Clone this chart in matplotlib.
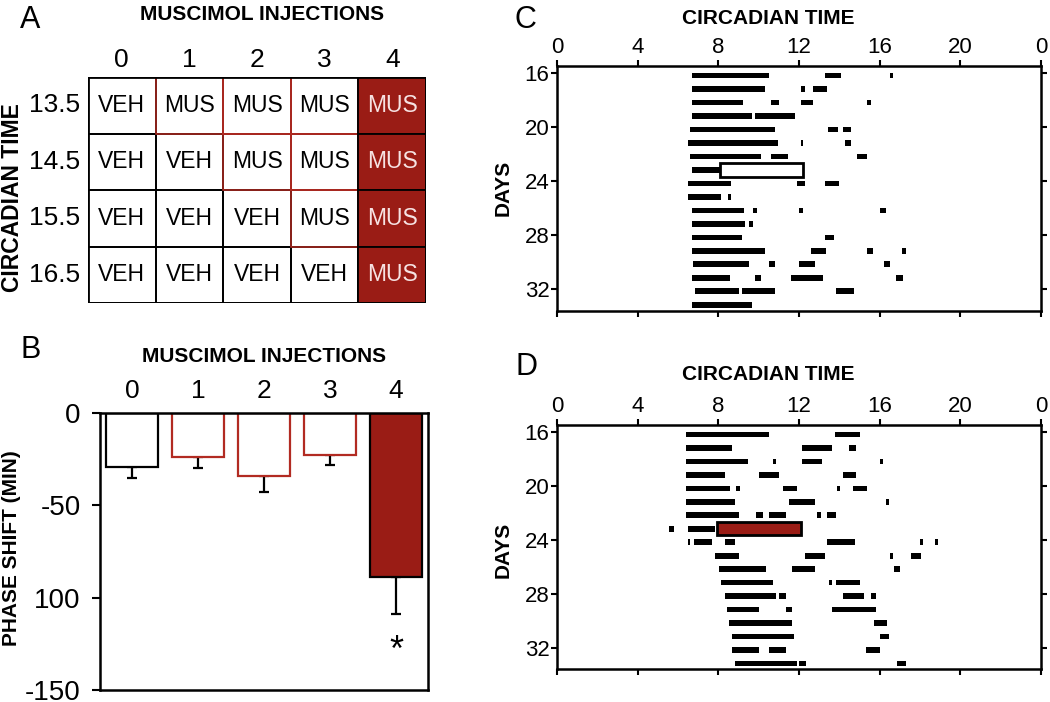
import matplotlib.pyplot as plt
from matplotlib.patches import Rectangle

plt.rcParams['font.family'] = ['Liberation Sans', 'DejaVu Sans']

DARK_RED = '#9a1c15'
EDGE_RED = '#b22b22'

# panel A: injection schedule
injections = [0, 1, 2, 3, 4]
ct_rows = ['13.5', '14.5', '15.5', '16.5']
schedule = [
    ['VEH', 'MUS', 'MUS', 'MUS', 'MUS'],
    ['VEH', 'VEH', 'MUS', 'MUS', 'MUS'],
    ['VEH', 'VEH', 'VEH', 'MUS', 'MUS'],
    ['VEH', 'VEH', 'VEH', 'VEH', 'MUS'],
]

# panel B: phase shifts (min)
shift_mean = [-29, -24, -34, -23, -89]
shift_sem = [6, 6, 9, 5, 20]

# panel C / D: activity bouts per day (start CT, end CT)
days = list(range(16, 34))
bouts_c = [
    [(6.7, 10.5), (13.3, 14.1), (16.5, 16.65)],
    [(6.7, 10.3), (12.1, 12.3), (12.7, 13.4)],
    [(6.7, 9.2), (10.6, 11.0), (12.1, 12.7), (15.35, 15.55)],
    [(6.7, 9.65), (9.8, 11.8)],
    [(6.6, 10.8), (13.45, 13.95), (14.2, 14.6)],
    [(6.5, 10.95), (12.1, 12.2), (14.3, 14.6)],
    [(6.6, 10.1), (10.6, 11.45), (14.9, 15.35)],
    [(6.7, 8.1)],
    [(6.5, 8.65), (11.9, 12.3), (13.3, 14.0)],
    [(6.5, 8.15), (8.5, 8.65)],
    [(6.7, 9.25), (9.7, 9.9), (12.0, 12.2), (16.0, 16.3)],
    [(6.7, 9.3), (9.5, 9.7)],
    [(6.7, 9.15), (13.3, 13.75)],
    [(6.7, 10.3), (12.6, 13.35), (15.35, 15.65), (17.1, 17.3)],
    [(6.75, 9.5), (10.5, 10.8), (12.0, 12.8), (16.2, 16.5)],
    [(6.7, 8.6), (9.8, 10.1), (11.6, 13.2), (16.8, 17.15)],
    [(6.85, 9.0), (9.15, 10.8), (13.85, 14.75)],
    [(6.7, 9.65)],
]
bouts_d = [
    [(6.4, 10.5), (13.8, 15.0)],
    [(6.4, 8.7), (12.15, 13.65), (14.5, 14.85)],
    [(6.4, 9.45), (10.7, 10.85), (12.15, 13.15), (16.0, 16.15)],
    [(6.4, 8.35), (10.0, 11.0), (14.2, 14.85)],
    [(6.4, 8.6), (8.9, 9.05), (11.2, 11.9), (13.9, 14.05), (14.7, 15.35)],
    [(6.4, 8.85), (11.5, 12.8), (16.3, 16.45)],
    [(6.4, 9.0), (9.85, 10.2), (10.5, 11.35), (12.9, 13.1), (13.4, 13.85)],
    [(5.55, 5.8), (6.5, 7.85)],
    [(6.5, 6.6), (6.8, 7.7), (8.35, 8.85), (13.4, 14.8), (18.0, 18.15), (18.75, 18.9)],
    [(7.85, 9.0), (12.3, 13.3), (16.5, 16.65), (17.55, 18.05)],
    [(8.05, 10.35), (11.65, 12.8), (16.7, 17.0)],
    [(8.15, 10.7), (13.5, 13.65), (13.85, 15.0)],
    [(8.35, 10.85), (11.0, 11.35), (14.2, 15.2), (15.55, 15.8)],
    [(8.45, 10.0), (11.35, 11.65), (13.65, 15.8)],
    [(8.55, 11.65), (15.7, 16.35)],
    [(8.7, 11.75), (16.0, 16.45)],
    [(8.7, 10.0), (10.5, 11.35), (15.3, 16.0)],
    [(8.85, 11.9), (12.0, 12.35), (16.85, 17.3)],
]
pulse_day = 23
pulse_c = (8.1, 12.2)
pulse_d = (7.95, 12.1)

fig = plt.figure(figsize=(10.5, 7.02), dpi=100)
W, H = 1050, 702


def fx(px):
    return px / W


def fy(py):
    return 1 - py / H


# ---------- A ----------
axA = fig.add_axes([fx(88), fy(303), fx(426 - 88), (303 - 77) / H])
axA.set_xlim(0, 5)
axA.set_ylim(4, 0)
axA.axis('off')
for r, row in enumerate(schedule):
    for c, lab in enumerate(row):
        axA.add_patch(Rectangle((c, r), 1, 1, fill=False, ec='black', lw=1.3, zorder=1))
for r, row in enumerate(schedule):
    for c, lab in enumerate(row):
        if lab == 'MUS' and c < 4:
            axA.add_patch(Rectangle((c, r), 1, 1, fill=False, ec=EDGE_RED, lw=1.1, zorder=2))
for r, row in enumerate(schedule):
    axA.add_patch(Rectangle((4, r), 1, 1, fc=DARK_RED, ec='black', lw=1.3, zorder=3))
axA.add_patch(Rectangle((0, 0), 5, 4, fill=False, ec='black', lw=2, zorder=4))
for r, row in enumerate(schedule):
    for c, lab in enumerate(row):
        axA.text(c + 0.5, r + 0.5, lab, ha='center', va='center', fontsize=16.5,
                 color='#f6e2e2' if c == 4 else 'black', zorder=5)
for c, n in enumerate(injections):
    axA.text(c + 0.5, -0.3, str(n), ha='center', va='center', fontsize=19, clip_on=False)
for r, lab in enumerate(ct_rows):
    axA.text(-0.11, r + 0.5, lab, ha='right', va='center', fontsize=19, clip_on=False)

fig.text(fx(20), fy(20), 'A', fontsize=22, ha='left', va='center')
fig.text(fx(262), fy(14), 'MUSCIMOL INJECTIONS', fontsize=15, fontweight='bold', ha='center', va='center')
fig.text(fx(13), fy(198), 'CIRCADIAN TIME', fontsize=16.5, fontweight='bold', rotation=90,
         ha='center', va='center')

# ---------- B ----------
axB = fig.add_axes([fx(100), fy(690), fx(328), (690 - 413) / H])
edge_cols = ['black', EDGE_RED, EDGE_RED, EDGE_RED, 'black']
face_cols = ['white', 'white', 'white', 'white', DARK_RED]
axB.bar(injections, shift_mean, width=0.79, color=face_cols, edgecolor=edge_cols, linewidth=1.6, zorder=2)
axB.errorbar(injections, shift_mean, yerr=[shift_sem, [0] * 5], fmt='none', ecolor='black',
             elinewidth=1.6, capsize=3.6, capthick=1.6, zorder=1)
axB.text(4, -129, '*', ha='center', va='center', fontsize=26)
axB.set_xlim(-0.485, 4.485)
axB.set_ylim(-150, 0)
axB.set_yticks([0, -50, -100, -150])
axB.set_yticklabels(['0', '-50', '100', '-150'])
axB.set_xticks(injections)
axB.set_xticklabels([str(n) for n in injections])
axB.xaxis.tick_top()
axB.tick_params(axis='x', length=0, pad=7, labelsize=19)
axB.tick_params(axis='y', length=6, width=1.5, pad=8, labelsize=20, direction='out')
for s in axB.spines.values():
    s.set_linewidth(1.8)

fig.text(fx(20), fy(350), 'B', fontsize=22, ha='left', va='center')
fig.text(fx(264), fy(356), 'MUSCIMOL INJECTIONS', fontsize=15, fontweight='bold', ha='center', va='center')
fig.text(fx(12), fy(548), 'PHASE SHIFT (MIN)', fontsize=15, fontweight='bold', rotation=90,
         ha='center', va='center')


# ---------- C, D ----------
def actogram(ax, bouts, pulse, pulse_face):
    for d, day_bouts in zip(days, bouts):
        ax.broken_barh([(s, e - s) for s, e in day_bouts], (d - 0.05, 0.42),
                       facecolors='black', edgecolor='none')
    ax.add_patch(Rectangle((pulse[0], pulse_day - 0.35), pulse[1] - pulse[0], 1.0,
                           fc=pulse_face, ec='black', lw=2, zorder=3))
    ax.set_xlim(0, 24)
    ax.set_ylim(33.6, 15.45)
    ax.set_xticks(range(0, 25, 4))
    ax.set_xticklabels(['0', '4', '8', '12', '16', '20', '0'])
    ax.set_yticks([16, 20, 24, 28, 32])
    ax.tick_params(axis='x', top=True, bottom=True, labeltop=True, labelbottom=False,
                   direction='out', length=4, width=1.5, pad=2, labelsize=16)
    ax.tick_params(axis='y', left=True, right=True, labelleft=True, labelright=False,
                   direction='out', length=4, width=1.5, pad=1.5, labelsize=16)
    for s in ax.spines.values():
        s.set_linewidth(1.8)


axC = fig.add_axes([fx(557), fy(310.7), fx(484), (310.7 - 66) / H])
actogram(axC, bouts_c, pulse_c, 'white')
axD = fig.add_axes([fx(557), fy(669.3), fx(484), (669.3 - 425) / H])
actogram(axD, bouts_d, pulse_d, DARK_RED)

fig.text(fx(515), fy(20), 'C', fontsize=22, ha='left', va='center')
fig.text(fx(768), fy(18), 'CIRCADIAN TIME', fontsize=15, fontweight='bold', ha='center', va='center')
fig.text(fx(503), fy(188), 'DAYS', fontsize=15, fontweight='bold', rotation=90, ha='center', va='center')
fig.text(fx(515), fy(367), 'D', fontsize=22, ha='left', va='center')
fig.text(fx(768), fy(375), 'CIRCADIAN TIME', fontsize=15, fontweight='bold', ha='center', va='center')
fig.text(fx(503), fy(550), 'DAYS', fontsize=15, fontweight='bold', rotation=90, ha='center', va='center')

fig.savefig('out.png', dpi=100)
